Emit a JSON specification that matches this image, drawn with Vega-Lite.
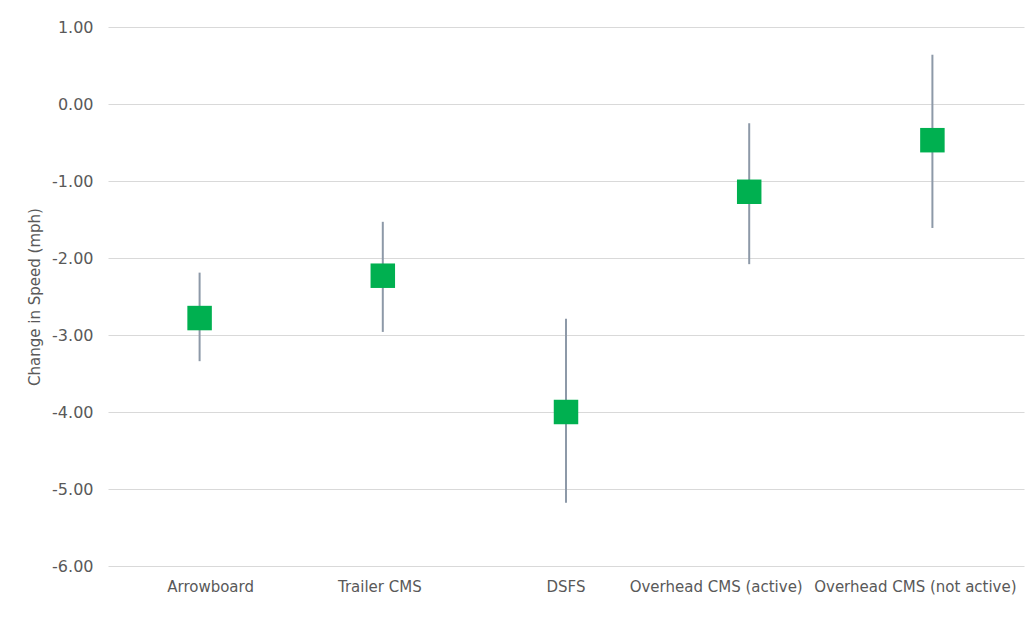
{
  "$schema": "https://vega.github.io/schema/vega-lite/v6.json",
  "width": 916,
  "height": 539,
  "autosize": "none",
  "padding": {"left": 108, "top": 27, "right": 2, "bottom": 73},
  "background": "white",
  "config": {
    "view": {"stroke": null},
    "font": "DejaVu Sans"
  },
  "data": {
    "values": [
      {"category": "Arrowboard", "mean": -2.78, "low": -3.34, "high": -2.19},
      {"category": "Trailer CMS", "mean": -2.23, "low": -2.96, "high": -1.53},
      {"category": "DSFS", "mean": -4.0, "low": -5.18, "high": -2.79},
      {"category": "Overhead CMS (active)", "mean": -1.14, "low": -2.08, "high": -0.25},
      {"category": "Overhead CMS (not active)", "mean": -0.47, "low": -1.61, "high": 0.64}
    ]
  },
  "encoding": {
    "x": {
      "field": "category",
      "type": "nominal",
      "sort": null,
      "scale": {"paddingInner": 0, "paddingOuter": 0},
      "axis": {
        "title": null,
        "labelAngle": 0,
        "labelFont": "DejaVu Sans",
        "labelFontSize": 15,
        "labelColor": "#595959",
        "labelPadding": 13,
        "labelLimit": 0,
        "labelOverlap": false,
        "labelBound": false,
        "labelOffset": {
          "condition": [
            {"test": "datum.value === 'Arrowboard'", "value": 11},
            {"test": "datum.value === 'Trailer CMS'", "value": -3},
            {"test": "datum.value === 'Overhead CMS (active)'", "value": -33},
            {"test": "datum.value === 'Overhead CMS (not active)'", "value": -17}
          ],
          "value": 0
        },
        "ticks": false,
        "domain": false,
        "grid": false
      }
    }
  },
  "layer": [
    {
      "mark": {"type": "rule", "color": "#8D99A8", "strokeWidth": 2},
      "encoding": {
        "y": {
          "field": "low",
          "type": "quantitative",
          "scale": {"domain": [-6, 1], "nice": false, "zero": false},
          "axis": {
            "title": "Change in Speed (mph)",
            "titleFont": "DejaVu Sans",
            "titleFontSize": 15,
            "titleFontWeight": "normal",
            "titleColor": "#595959",
            "titlePadding": 9,
            "values": [-6, -5, -4, -3, -2, -1, 0, 1],
            "labelExpr": "replace(format(datum.value, '.2f'), '\u2212', '-')",
            "labelFont": "DejaVu Sans",
            "labelFontSize": 16,
            "labelColor": "#595959",
            "labelPadding": 15,
            "ticks": false,
            "domain": false,
            "grid": true,
            "gridColor": "#D9D9D9",
            "gridWidth": 1
          }
        },
        "y2": {"field": "high"}
      }
    },
    {
      "mark": {"type": "point", "shape": "square", "filled": true, "color": "#00B050", "opacity": 1, "size": 600},
      "encoding": {
        "y": {"field": "mean", "type": "quantitative"}
      }
    }
  ]
}
